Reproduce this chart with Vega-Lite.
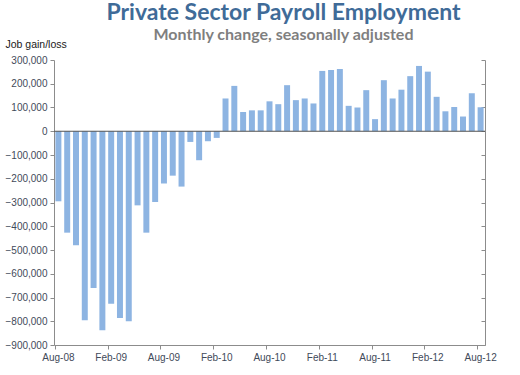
{
  "$schema": "https://vega.github.io/schema/vega-lite/v6.json",
  "width": 431,
  "height": 285,
  "autosize": {"type": "none"},
  "padding": {"left": 54, "top": 60, "right": 35, "bottom": 30},
  "background": "white",
  "config": {
    "view": {"stroke": null},
    "axis": {"labelFont": "Liberation Sans", "labelFontSize": 10, "labelColor": "#3f4a5a", "domainColor": "#8c8c8c", "tickColor": "#8c8c8c", "grid": false}
  },
  "title": {
    "text": "Private Sector Payroll Employment",
    "subtitle": "Monthly change, seasonally adjusted",
    "anchor": "middle",
    "font": "Lato",
    "fontSize": 23,
    "fontWeight": "bold",
    "color": "#3f6b98",
    "subtitleFont": "Lato",
    "subtitleFontSize": 16,
    "subtitleFontWeight": "bold",
    "subtitleColor": "#7f7f7f",
    "subtitlePadding": 2,
    "dx": 14,
    "offset": -4
  },
  "layer": [
    {
      "data": {
        "values": [
          {"m": "Aug-08", "v": -295000}, {"m": "Sep-08", "v": -427000}, {"m": "Oct-08", "v": -480000}, {"m": "Nov-08", "v": -796000}, {"m": "Dec-08", "v": -660000},
          {"m": "Jan-09", "v": -838000}, {"m": "Feb-09", "v": -726000}, {"m": "Mar-09", "v": -786000}, {"m": "Apr-09", "v": -800000}, {"m": "May-09", "v": -312000}, {"m": "Jun-09", "v": -427000},
          {"m": "Jul-09", "v": -298000}, {"m": "Aug-09", "v": -220000}, {"m": "Sep-09", "v": -187000}, {"m": "Oct-09", "v": -233000}, {"m": "Nov-09", "v": -45000}, {"m": "Dec-09", "v": -122000},
          {"m": "Jan-10", "v": -42000}, {"m": "Feb-10", "v": -28000}, {"m": "Mar-10", "v": 138000}, {"m": "Apr-10", "v": 191000}, {"m": "May-10", "v": 81000}, {"m": "Jun-10", "v": 88000},
          {"m": "Jul-10", "v": 88000}, {"m": "Aug-10", "v": 126000}, {"m": "Sep-10", "v": 114000}, {"m": "Oct-10", "v": 194000}, {"m": "Nov-10", "v": 131000}, {"m": "Dec-10", "v": 138000},
          {"m": "Jan-11", "v": 117000}, {"m": "Feb-11", "v": 254000}, {"m": "Mar-11", "v": 258000}, {"m": "Apr-11", "v": 262000}, {"m": "May-11", "v": 107000}, {"m": "Jun-11", "v": 100000},
          {"m": "Jul-11", "v": 173000}, {"m": "Aug-11", "v": 51000}, {"m": "Sep-11", "v": 215000}, {"m": "Oct-11", "v": 138000}, {"m": "Nov-11", "v": 175000}, {"m": "Dec-11", "v": 232000},
          {"m": "Jan-12", "v": 275000}, {"m": "Feb-12", "v": 251000}, {"m": "Mar-12", "v": 145000}, {"m": "Apr-12", "v": 84000}, {"m": "May-12", "v": 102000}, {"m": "Jun-12", "v": 62000},
          {"m": "Jul-12", "v": 160000}, {"m": "Aug-12", "v": 101000}
        ]
      },
      "mark": {"type": "bar", "color": "#8db4e2"},
      "encoding": {
        "x": {
          "field": "m", "type": "ordinal", "sort": null,
          "scale": {"paddingInner": 0.32, "paddingOuter": 0.16},
          "axis": {"title": null, "labelAngle": 0, "bandPosition": 0, "tickSize": 4, "labelPadding": 3,
            "values": ["Aug-08", "Feb-09", "Aug-09", "Feb-10", "Aug-10", "Feb-11", "Aug-11", "Feb-12", "Aug-12"]}
        },
        "y": {
          "field": "v", "type": "quantitative",
          "scale": {"domain": [-900000, 300000], "nice": false},
          "axis": {"values": [-900000, -800000, -700000, -600000, -500000, -400000, -300000, -200000, -100000, 0, 100000, 200000, 300000],
            "format": ",.0f", "tickSize": 4, "labelPadding": 3,
            "title": "Job gain/loss", "titleAngle": 0, "titleAlign": "left", "titleBaseline": "alphabetic",
            "titleX": -49, "titleY": -13, "titleFont": "Liberation Sans", "titleFontSize": 10.5, "titleFontWeight": "normal", "titleColor": "#1a1a1a"}
        }
      }
    },
    {
      "data": {"values": [{"z": 0}]},
      "mark": {"type": "rule", "color": "#555555", "strokeWidth": 1.2},
      "encoding": {
        "y": {"field": "z", "type": "quantitative",
          "axis": {"orient": "right", "labels": false, "title": null, "tickSize": -4,
            "values": [-900000, -800000, -700000, -600000, -500000, -400000, -300000, -200000, -100000, 0, 100000, 200000, 300000]}}
      }
    }
  ],
  "resolve": {"axis": {"y": "independent"}}
}
